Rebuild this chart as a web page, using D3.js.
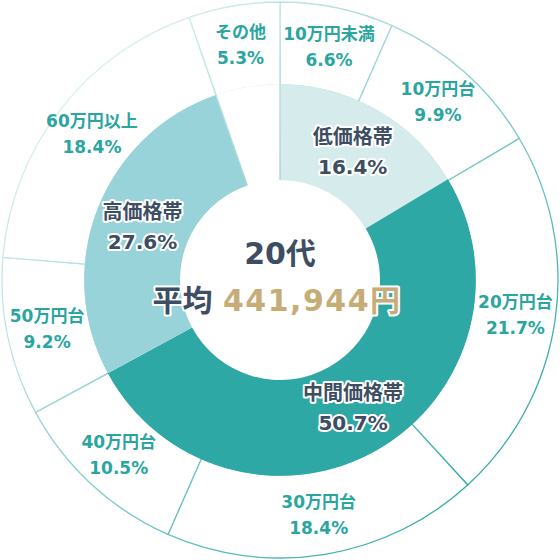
<!DOCTYPE html>
<html><head><meta charset="utf-8">
<script src="https://cdn.jsdelivr.net/npm/d3@7"></script>
<style>html,body{margin:0;padding:0;background:#fff;}svg{display:block;}</style>
</head><body>
<svg id="c" width="560" height="560"></svg>
<script>
const outerLabels = ["10万円未満","10万円台","20万円台","30万円台","40万円台","50万円台","60万円以上","その他"];
const outerValues = [6.6, 9.9, 21.7, 18.4, 10.5, 9.2, 18.4, 5.3];
const innerLabels = ["低価格帯","中間価格帯","高価格帯","その他"];
const innerValues = [16.4, 50.7, 27.6, 5.3];
const innerColors = ["#d6ecec", "#2ea8a5", "#98d3da", "#ffffff"];
const centerTitle = "20代";
const centerPrefix = "平均";
const centerValue = "441,944円";

const W = 560, H = 560, cx = 280, cy = 280;
const R = 278, R1 = 195, R0 = 100;
const font = "'DejaVu Sans', 'Noto Sans CJK JP', sans-serif";

const svg = d3.select("#c");
const defs = svg.append("defs");
const grad = defs.append("linearGradient").attr("id","lg")
  .attr("gradientUnits","userSpaceOnUse")
  .attr("x1",-cx).attr("y1",-cy).attr("x2",W-cx).attr("y2",H-cy);
grad.append("stop").attr("offset","0.15").attr("stop-color","#d8eff0");
grad.append("stop").attr("offset","0.85").attr("stop-color","#35aca7");

const g = svg.append("g").attr("transform",`translate(${cx},${cy})`);
const pie = d3.pie().sort(null).value(d => d);

const outerArcs = pie(outerValues);
const innerArcs = pie(innerValues);

const arcOuter = d3.arc().innerRadius(R1).outerRadius(R);
g.selectAll("path.o").data(outerArcs).join("path").attr("class","o")
  .attr("d", arcOuter).attr("fill","#fff")
  .attr("stroke","url(#lg)").attr("stroke-width",1.3);

const arcInner = d3.arc().innerRadius(R0).outerRadius(R1 + 0.8);
g.selectAll("path.i").data(innerArcs).join("path").attr("class","i")
  .attr("d", arcInner).attr("fill",(d,i)=>innerColors[i]);

// radial edges of the "その他" wedge through the inner ring
const other = innerArcs[innerArcs.length-1];
[other.startAngle, other.endAngle].forEach(a => {
  g.append("line")
    .attr("x1", R0*Math.sin(a)).attr("y1", -R0*Math.cos(a))
    .attr("x2", (R1+1)*Math.sin(a)).attr("y2", -(R1+1)*Math.cos(a))
    .attr("stroke","url(#lg)").attr("stroke-width",1.3);
});

// outer labels
const rl = R1 + 43;
const arcOL = d3.arc().innerRadius(rl).outerRadius(rl);
outerArcs.forEach((d,i) => {
  const [x,y] = arcOL.centroid(d);
  const t = g.append("text").attr("text-anchor","middle")
    .attr("font-family",font).attr("font-weight",700).attr("font-size",17)
    .attr("fill","#2aa59f");
  t.append("tspan").attr("x",x).attr("y",y-13+6).text(outerLabels[i]);
  t.append("tspan").attr("x",x).attr("y",y+13+6).text(outerValues[i].toFixed(1)+"%");
});

// inner labels
const arcIL = d3.arc().innerRadius((R0+R1)/2).outerRadius((R0+R1)/2);
innerArcs.slice(0,3).forEach((d,i) => {
  const [x,y] = arcIL.centroid(d);
  const t = g.append("text").attr("text-anchor","middle")
    .attr("font-family",font).attr("font-weight",700).attr("font-size",20)
    .attr("fill","#3d4e62").attr("stroke","#fff").attr("stroke-width",4)
    .attr("stroke-linejoin","round").attr("paint-order","stroke");
  t.append("tspan").attr("x",x).attr("y",y-15+7).text(innerLabels[i]);
  t.append("tspan").attr("x",x).attr("y",y+15+7).text(innerValues[i].toFixed(1)+"%");
});

// center
g.append("text").attr("text-anchor","middle").attr("x",0).attr("y",-16)
  .attr("font-family",font).attr("font-weight",700).attr("font-size",30)
  .attr("fill","#3d4e62").text(centerTitle);
const ct = g.append("text").attr("text-anchor","middle").attr("x",-3).attr("y",31)
  .attr("font-family",font).attr("font-weight",700).attr("font-size",30)
  .attr("stroke","#fff").attr("stroke-width",4).attr("stroke-linejoin","round")
  .attr("paint-order","stroke");
ct.append("tspan").attr("fill","#3d4e62").text(centerPrefix + " ");
ct.append("tspan").attr("fill","#c6ad78").attr("letter-spacing",1.5).text(centerValue);
</script>
</body></html>
